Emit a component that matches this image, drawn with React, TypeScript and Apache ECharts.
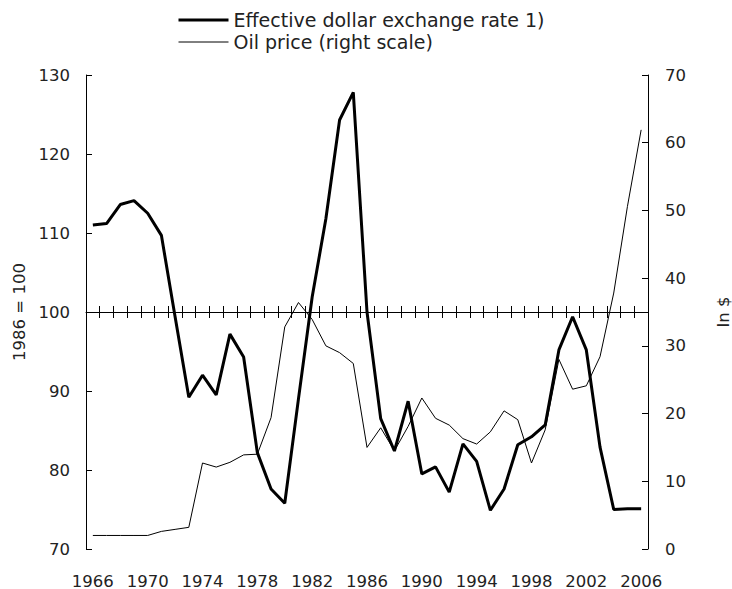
import React, { useEffect, useRef } from "react";
import * as echarts from "echarts";

const years: string[] = [
  "1966", "1967", "1968", "1969", "1970", "1971", "1972", "1973", "1974", "1975",
  "1976", "1977", "1978", "1979", "1980", "1981", "1982", "1983", "1984", "1985",
  "1986", "1987", "1988", "1989", "1990", "1991", "1992", "1993", "1994", "1995",
  "1996", "1997", "1998", "1999", "2000", "2001", "2002", "2003", "2004", "2005",
  "2006",
];

const exchangeRate: number[] = [
  111.0, 111.2, 113.6, 114.1, 112.5, 109.7, 99.4, 89.2, 92.0, 89.5,
  97.2, 94.3, 82.2, 77.6, 75.8, 89.0, 101.9, 111.8, 124.3, 127.8,
  100.0, 86.5, 82.4, 88.7, 79.5, 80.4, 77.2, 83.3, 81.1, 74.9,
  77.6, 83.2, 84.2, 85.7, 95.2, 99.4, 95.2, 82.9, 75.0, 75.1,
  75.1,
];

const oilPrice: number[] = [
  2.0, 2.0, 2.0, 2.0, 2.0, 2.6, 2.9, 3.2, 12.7, 12.1,
  12.8, 13.9, 14.0, 19.4, 32.8, 36.4, 33.9, 30.0, 29.0, 27.4,
  15.0, 17.9, 14.5, 18.1, 22.3, 19.3, 18.3, 16.3, 15.5, 17.3,
  20.4, 19.1, 12.7, 17.6, 28.0, 23.6, 24.1, 28.4, 37.8, 50.6,
  61.9,
];

const seriesNames = ["Effective dollar exchange rate 1)", "Oil price (right scale)"];
const leftAxisName = "1986 = 100";
const rightAxisName = "In $";

const FONT = "DejaVu Sans";
const TXT = "#222";

export default function App() {
  const ref = useRef<HTMLDivElement>(null);
  useEffect(() => {
    if (!ref.current) return;
    const chart = echarts.init(ref.current, null, { renderer: "svg" });
    const labelStyle = { fontFamily: FONT, fontSize: 16.5, color: TXT };
    const baseX = {
      type: "category" as const,
      data: years,
      boundaryGap: true,
      position: "bottom" as const,
      splitLine: { show: false },
    };
    chart.setOption({
      animation: false,
      textStyle: { fontFamily: FONT },
      legend: {
        orient: "vertical",
        left: 177,
        top: 10,
        padding: 0,
        itemWidth: 50,
        itemHeight: 14,
        itemGap: 2,
        itemStyle: { color: "rgba(0,0,0,0)", borderWidth: 0, opacity: 0 },
        textStyle: { fontFamily: FONT, fontSize: 19, lineHeight: 20, color: TXT },
        data: [
          { name: seriesNames[0], lineStyle: { width: 3, color: "#000" } },
          { name: seriesNames[1], lineStyle: { width: 1, color: "#000" } },
        ],
      },
      grid: {
        left: 86,
        right: 84,
        top: 75,
        bottom: 40,
        containLabel: false,
        outerBoundsMode: "none",
      },
      xAxis: [
        {
          ...baseX,
          axisLine: { show: false },
          axisTick: { show: false },
          axisLabel: { ...labelStyle, lineHeight: 14, interval: 3, margin: 25 },
        },
        {
          ...baseX,
          offset: -237,
          axisLine: { show: true, onZero: false, lineStyle: { color: "#000", width: 1 } },
          axisTick: { show: true, inside: true, length: 6, interval: 0, lineStyle: { color: "#000" } },
          axisLabel: { show: false },
        },
        {
          ...baseX,
          offset: -237,
          axisLine: { show: false, onZero: false },
          axisTick: { show: true, inside: false, length: 6, interval: 0, lineStyle: { color: "#000" } },
          axisLabel: { show: false },
        },
      ],
      yAxis: [
        {
          type: "value",
          min: 70,
          max: 130,
          interval: 10,
          position: "left",
          name: leftAxisName,
          nameLocation: "middle",
          nameRotate: 90,
          nameGap: 60,
          nameTextStyle: { fontFamily: FONT, fontSize: 16.5, lineHeight: 14, color: TXT },
          axisLine: { show: true, lineStyle: { color: "#000", width: 1 } },
          axisTick: { show: true, inside: true, length: 6, lineStyle: { color: "#000" } },
          axisLabel: { ...labelStyle, margin: 16 },
          splitLine: { show: false },
        },
        {
          type: "value",
          min: 0,
          max: 70,
          interval: 10,
          position: "right",
          name: rightAxisName,
          nameLocation: "middle",
          nameRotate: 90,
          nameGap: 68,
          nameTextStyle: { fontFamily: FONT, fontSize: 16.5, lineHeight: 14, color: TXT },
          axisLine: { show: true, lineStyle: { color: "#000", width: 1 } },
          axisTick: { show: true, inside: true, length: 6, lineStyle: { color: "#000" } },
          axisLabel: { ...labelStyle, margin: 17 },
          splitLine: { show: false },
        },
      ],
      series: [
        {
          name: seriesNames[0],
          type: "line",
          xAxisIndex: 0,
          yAxisIndex: 0,
          data: exchangeRate,
          symbol: "none",
          showSymbol: false,
          itemStyle: { color: "#000" },
          lineStyle: { color: "#000", width: 3 },
        },
        {
          name: seriesNames[1],
          type: "line",
          xAxisIndex: 0,
          yAxisIndex: 1,
          data: oilPrice,
          symbol: "none",
          showSymbol: false,
          itemStyle: { color: "#000" },
          lineStyle: { color: "#000", width: 1 },
        },
      ],
    });
    return () => chart.dispose();
  }, []);
  return (
    <div
      ref={ref}
      style={{ position: "fixed", left: 0, top: 0, width: 732, height: 589, background: "#fff" }}
    />
  );
}
